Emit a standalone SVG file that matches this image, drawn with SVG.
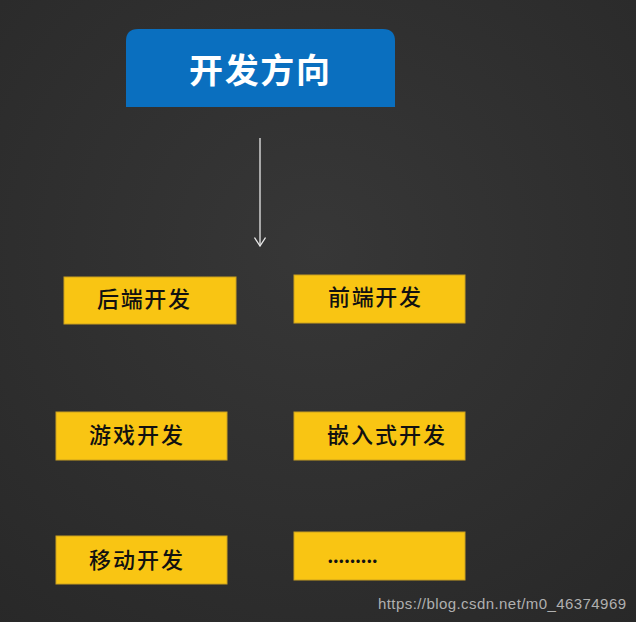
<svg xmlns="http://www.w3.org/2000/svg" width="636" height="622" viewBox="0 0 636 622">
<defs>
<radialGradient id="bg" cx="0.5" cy="0.4" r="0.8">
<stop offset="0" stop-color="#373737"/>
<stop offset="1" stop-color="#282828"/>
</radialGradient>
<marker id="ah" viewBox="0 0 10 12" refX="9" refY="6" markerWidth="10" markerHeight="12" markerUnits="userSpaceOnUse" orient="auto">
<path d="M0.5,0.5 L9,6 L0.5,11.5" fill="none" stroke="#e8e8e8" stroke-width="1.3"/>
</marker>
</defs>
<style>
.box{fill:#f9c513;stroke:#caa020;stroke-width:1}
.lbl{font-family:"Noto Sans CJK SC","Noto Sans",sans-serif;font-size:22px;font-weight:500;fill:#111}
.title{font-family:"Noto Sans CJK SC","Noto Sans",sans-serif;font-size:34px;font-weight:700;fill:#fff}
</style>
<rect width="636" height="622" fill="url(#bg)"/>
<g id="title">
<path d="M126,107 L126,41 Q126,29 138,29 L383,29 Q395,29 395,41 L395,107 Z" fill="#0a6fbf"/>
<text class="title" x="189" y="83" textLength="141">开发方向</text>
</g>
<g id="connectors">
<line x1="260" y1="138" x2="260" y2="246" stroke="#e8e8e8" stroke-width="1.3" marker-end="url(#ah)"/>
</g>
<g id="backend">
<rect class="box" x="64" y="277" width="172" height="47"/>
<text class="lbl" x="97" y="307" textLength="93">后端开发</text>
</g>
<g id="frontend">
<rect class="box" x="294" y="275" width="171" height="48"/>
<text class="lbl" x="328" y="305" textLength="93">前端开发</text>
</g>
<g id="game">
<rect class="box" x="56" y="412" width="171" height="48"/>
<text class="lbl" x="89" y="443" textLength="94">游戏开发</text>
</g>
<g id="embedded">
<rect class="box" x="294" y="412" width="171" height="48"/>
<text class="lbl" x="327" y="443" textLength="118">嵌入式开发</text>
</g>
<g id="mobile">
<rect class="box" x="56" y="536" width="171" height="48"/>
<text class="lbl" x="89" y="568" textLength="94">移动开发</text>
</g>
<g id="more">
<rect class="box" x="294" y="532" width="171" height="48"/>
<text class="lbl" x="327" y="563" textLength="51">.........</text>
</g>
<text x="378" y="609" font-family="'Liberation Sans',Arial,sans-serif" font-size="15" fill="#b0b0b0" textLength="248">https://blog.csdn.net/m0_46374969</text>
</svg>
